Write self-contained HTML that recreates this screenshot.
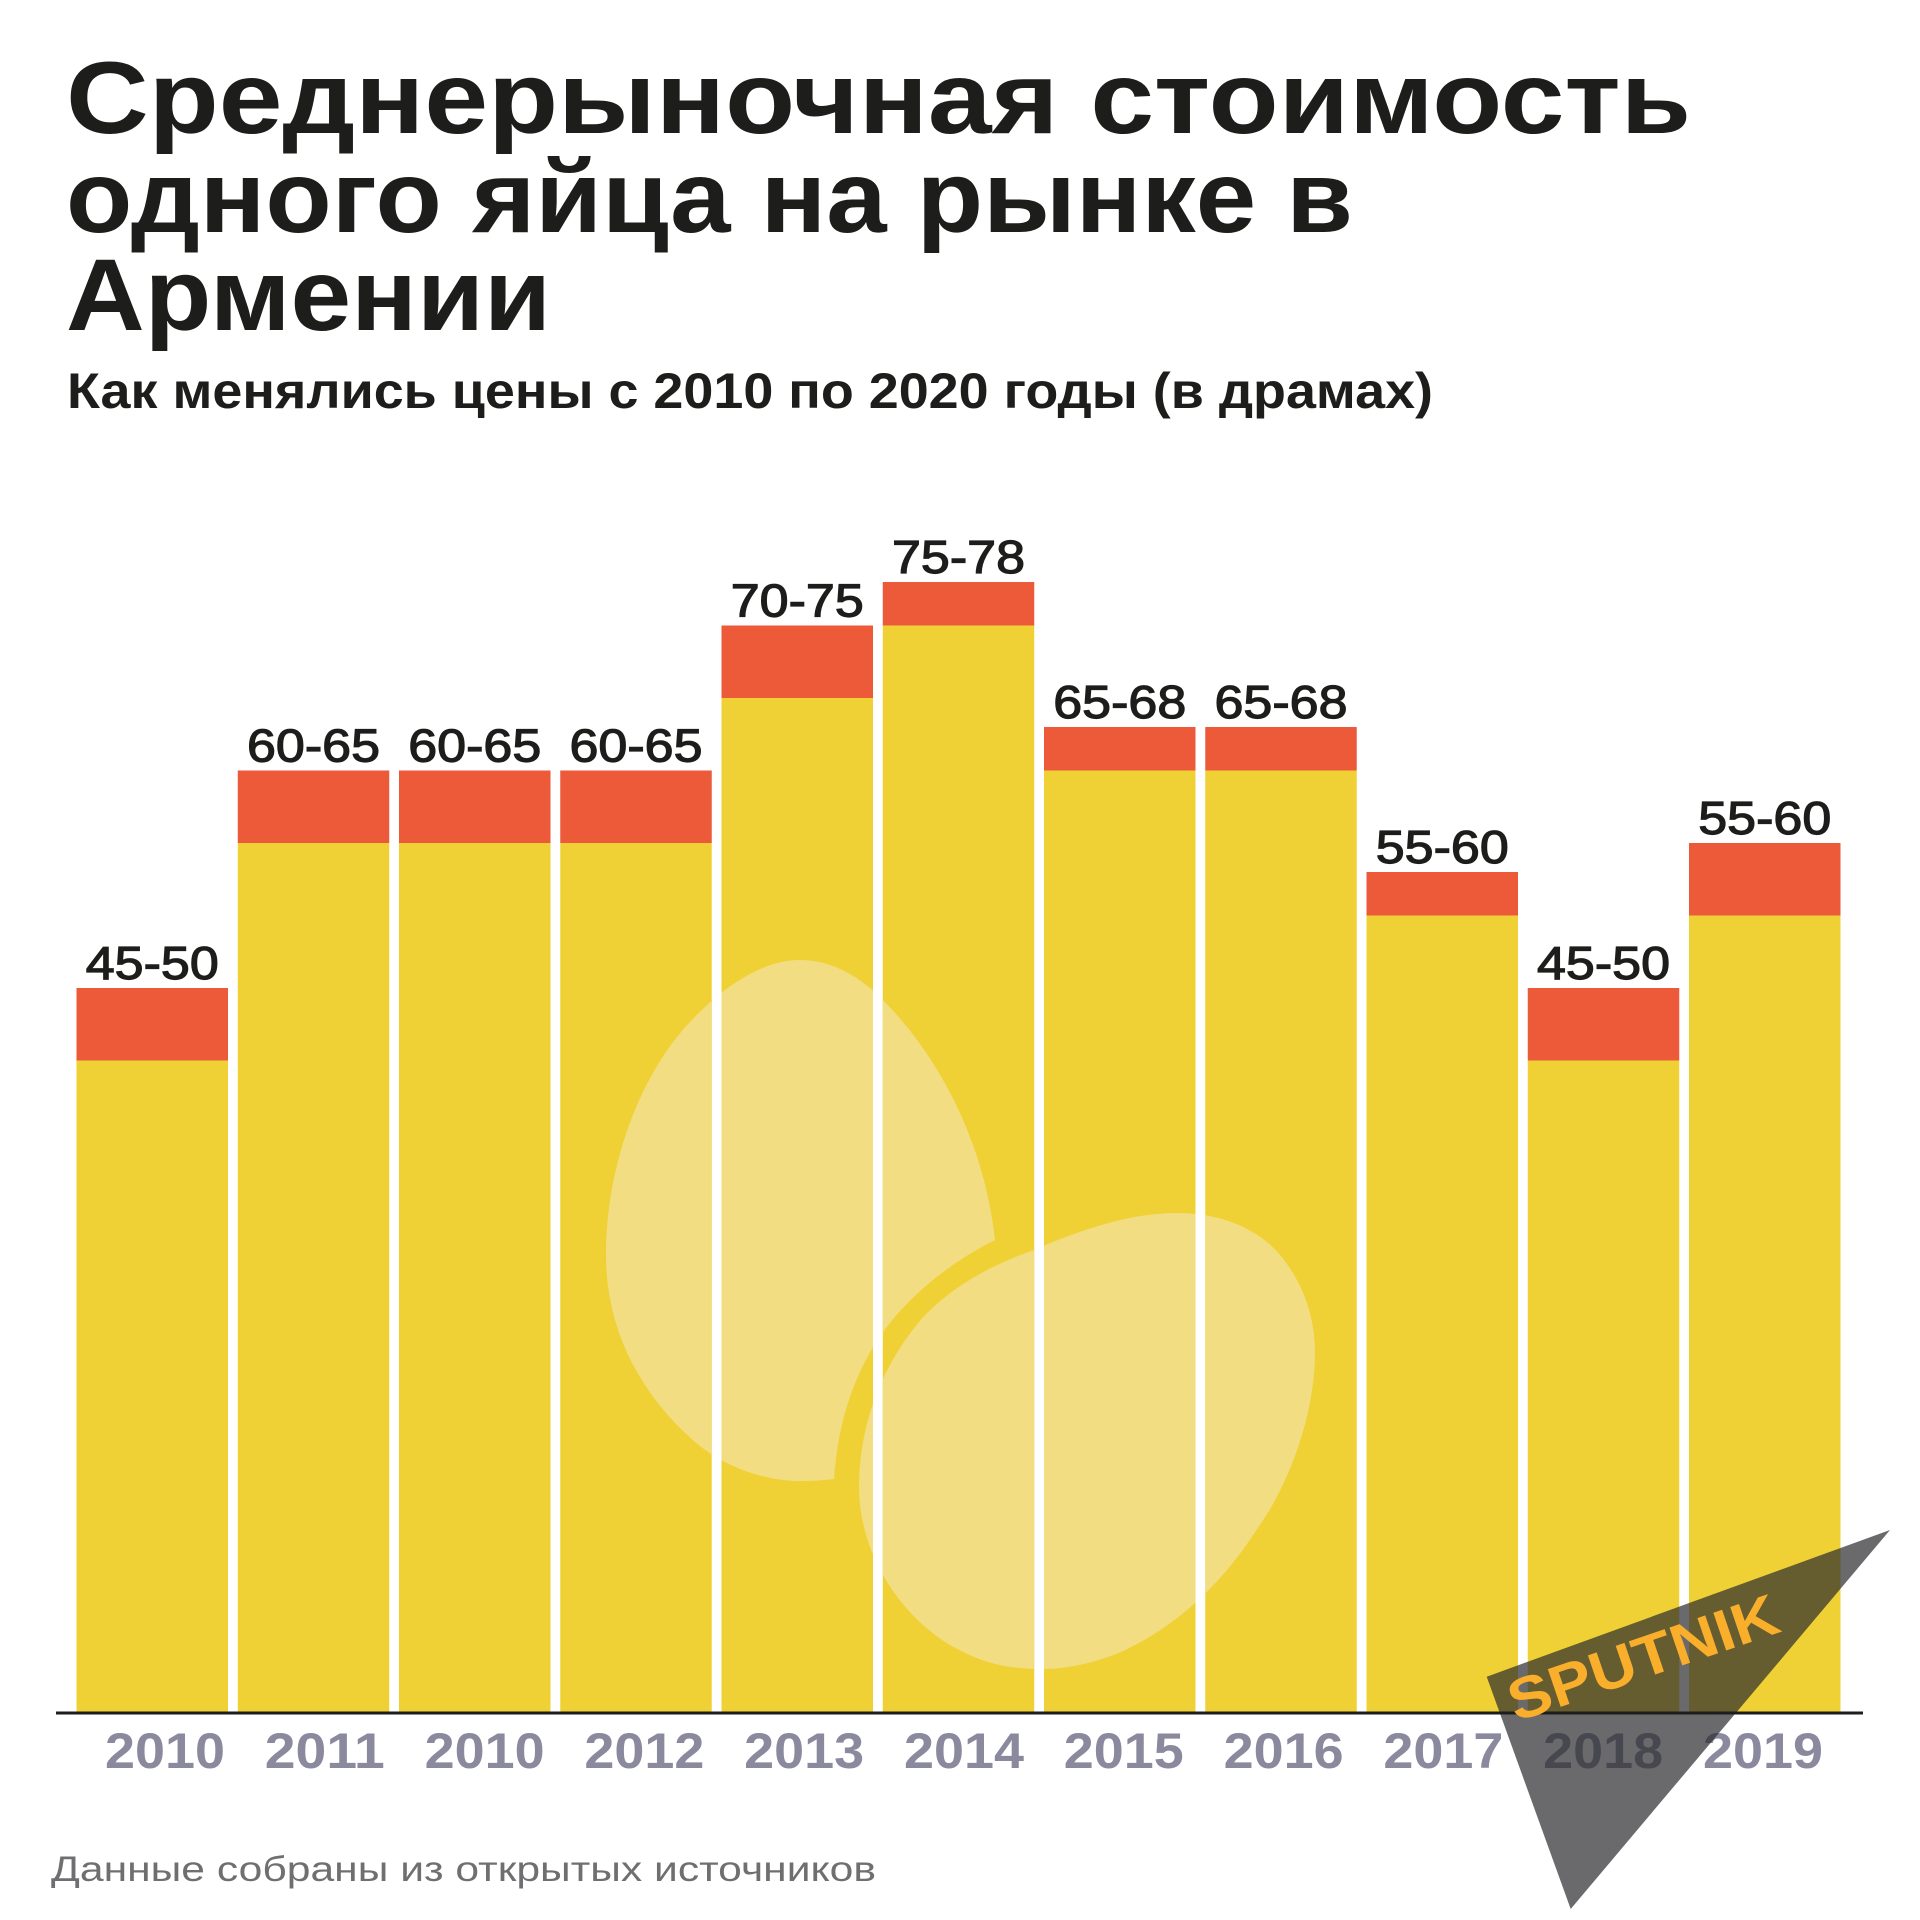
<!DOCTYPE html>
<html lang="ru">
<head>
<meta charset="utf-8">
<title>Среднерыночная стоимость одного яйца на рынке в Армении</title>
<style>
html,body{margin:0;padding:0;background:#fff;}
svg{display:block;}
text{font-family:"Liberation Sans","DejaVu Sans",sans-serif;}
</style>
</head>
<body>
<svg id="chart" xmlns="http://www.w3.org/2000/svg" width="1920" height="1920" viewBox="0 0 1920 1920">
  <rect width="1920" height="1920" fill="#ffffff"/>
  <text x="66" y="133" font-size="102" font-weight="700" fill="#1d1d1b" textLength="1625" lengthAdjust="spacingAndGlyphs">Среднерыночная стоимость</text>
  <text x="66" y="232" font-size="102" font-weight="700" fill="#1d1d1b" textLength="1287" lengthAdjust="spacingAndGlyphs">одного яйца на рынке в</text>
  <text x="66" y="330" font-size="102" font-weight="700" fill="#1d1d1b" textLength="485" lengthAdjust="spacingAndGlyphs">Армении</text>
  <text x="67" y="408" font-size="50" font-weight="700" fill="#1d1d1b" textLength="1366" lengthAdjust="spacingAndGlyphs">Как менялись цены с 2010 по 2020 годы (в драмах)</text>

  <g id="bars"></g>
  <defs><clipPath id="bar-clip"></clipPath></defs>
  <g clip-path="url(#bar-clip)" fill="#f3dd82">
    <path d="M995 1240 C985 1150 945 1060 876 993 C850 970 825 960 800 960 C760 960 720 990 690 1022 C640 1075 606 1165 606 1255 C606 1340 650 1405 700 1446 C730 1470 770 1481 800 1481 C815 1481 825 1480 834 1479 C838 1420 855 1370 886 1328 C915 1290 955 1260 995 1240 Z"/>
    <path d="M1177 1213 C1215 1213 1255 1225 1280 1255 C1305 1285 1315 1320 1315 1352 C1315 1420 1285 1490 1259 1526 C1225 1580 1180 1625 1121 1652 C1095 1663 1065 1669 1045 1669 C1010 1669 985 1665 950 1645 C905 1618 860 1560 859 1488 C859 1420 885 1360 925 1315 C960 1280 1000 1262 1034 1250 C1080 1230 1130 1213 1177 1213 Z"/>
  </g>
  <g id="value-labels"></g>
  <g id="x-labels"></g>

  <text x="51" y="1881" font-size="35" fill="#6f6f72" textLength="825" lengthAdjust="spacingAndGlyphs">Данные собраны из открытых источников</text>

  <g>
    <polygon points="1890,1530 1486.7,1676.7 1570.7,1909" fill="#2b2b2e" fill-opacity="0.7"/>
  </g>
  <line x1="56" x2="1863" y1="1713" y2="1713" stroke="#1d1d1b" stroke-width="3"/>
  <text transform="translate(1516 1722) rotate(-18.8)" font-size="58" font-weight="700" fill="#f9ae2c" textLength="282" lengthAdjust="spacingAndGlyphs">SPUTNIK</text>
</svg>
<script>
const categories = ["2010","2011","2010","2012","2013","2014","2015","2016","2017","2018","2019"];
const lowPrices  = [45,60,60,60,70,75,65,65,55,45,55];
const highPrices = [50,65,65,65,75,78,68,68,58,50,60];
const rangeLabels = ["45-50","60-65","60-65","60-65","70-75","75-78","65-68","65-68","55-60","45-50","55-60"];

const SVG_NS = "http://www.w3.org/2000/svg";
const baselineY = 1713;
const pxPerUnit = 14.5;
const barLeft = 76.5;
const barStep = 161.25;
const barWidth = 151.5;
const tickLeft = 165;
const tickStep = 159.8;

function yScale(v){ return baselineY - v * pxPerUnit; }
function xScale(i){ return barLeft + i * barStep; }
function tickX(i){ return tickLeft + i * tickStep; }

function make(tag, attrs){
  const el = document.createElementNS(SVG_NS, tag);
  for (const k in attrs) el.setAttribute(k, attrs[k]);
  return el;
}

const barsG = document.getElementById("bars");
const clip = document.getElementById("bar-clip");
const valueG = document.getElementById("value-labels");
const xG = document.getElementById("x-labels");

categories.forEach(function(cat, i){
  const x = xScale(i);
  const yLow = yScale(lowPrices[i]);
  const yHigh = yScale(highPrices[i]);

  const low = make("rect", {x:x, y:yLow, width:barWidth, height:baselineY - yLow, fill:"#efd136"});
  
  
  barsG.appendChild(low);

  const high = make("rect", {x:x, y:yHigh, width:barWidth, height:yLow - yHigh, fill:"#ec5a3a"});
  
  
  barsG.appendChild(high);

  clip.appendChild(make("rect", {x:x, y:yLow, width:barWidth, height:baselineY - yLow}));

  const label = make("text", {x:x + barWidth / 2, y:yHigh - 9, "text-anchor":"middle", "font-size":"46", fill:"#1d1d1b", stroke:"#1d1d1b", "stroke-width":"1.2", textLength:"133", lengthAdjust:"spacingAndGlyphs"});
  
  
  label.textContent = rangeLabels[i];
  valueG.appendChild(label);

  const tick = make("text", {x:tickX(i), y:1768, "text-anchor":"middle", "font-size":"50", "font-weight":"700", fill:"#8a899e", textLength:"120", lengthAdjust:"spacingAndGlyphs"});
  
  
  tick.textContent = cat;
  xG.appendChild(tick);
});
</script>
</body>
</html>
